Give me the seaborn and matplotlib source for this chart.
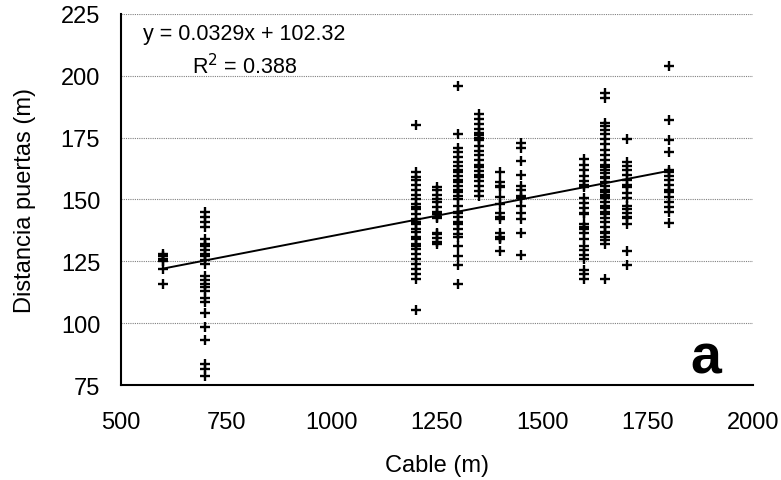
import matplotlib
matplotlib.use("Agg")
import matplotlib.pyplot as plt
import seaborn as sns
import pandas as pd
import numpy as np

# ---- data ----
y600 = [128, 127, 126, 125, 122, 116]
y700 = [145, 143, 141, 139, 134, 132, 131, 129.5, 128, 127, 125.5, 124, 119, 117.5,
        116, 114.5, 113, 110, 108.5, 104, 98.5, 93, 83.5, 81.5, 78.5]
y1200 = [180, 161, 159, 158, 156, 154, 152, 150, 148, 147, 146, 144, 142, 141, 140,
         138, 137, 135, 134, 132, 131, 130, 128, 126, 124, 122, 120, 118, 105.5]
y1250 = [155, 154, 152, 150, 149, 147, 145, 144, 143, 142.5, 136.5, 136, 134.5, 133, 132]
y1300 = [196, 176.5, 171, 169, 167, 165, 163.5, 162, 161, 159.5, 158, 157, 155.5, 154,
         153, 151.5, 150, 147.5, 145, 144.5, 143, 141, 140, 138, 136, 135, 131, 127,
         123.5, 116]
y1350 = [184.5, 182.5, 180.5, 178.5, 177, 176, 175, 174.5, 174, 171.5, 169.5, 168, 166,
         164, 163, 161.5, 160, 159, 157.5, 155.5, 153.5, 151.5]
y1400 = [161, 157, 155.5, 155, 151, 148, 144.5, 143, 142, 136.5, 135, 134.5, 134, 129]
y1450 = [173, 171, 165.5, 160, 155.5, 154, 151.5, 150.5, 147.5, 144.5, 142, 136.5, 127.5]
y1600 = [166.5, 164, 162, 159.5, 157.5, 156, 155, 150.5, 148.5, 146.5, 144.5, 144, 140,
         139, 138, 136.5, 134, 131, 129.5, 127.5, 126, 121.5, 120, 118]
y1650 = [193, 191, 181, 179.5, 178, 176.5, 174.5, 172.5, 170, 168, 166, 164, 163, 162,
         160.5, 159, 158.5, 157, 155.5, 154, 153, 152, 151, 150.5, 149, 147.5, 146.5,
         145, 144, 142.5, 141, 139, 137, 136.5, 135, 133.5, 132, 118]
y1700 = [174.5, 165, 163.5, 162, 160, 158, 156, 155, 152.5, 150.5, 147.5, 146, 144.5,
         143, 142.5, 140, 129, 123.5]
y1800 = [204, 182, 174, 169, 162, 161, 159.5, 158, 156, 154, 153, 151, 149, 147, 145, 140.5]

cable_groups = [600, 700, 1200, 1250, 1300, 1350, 1400, 1450, 1600, 1650, 1700, 1800]
dist_groups = [y600, y700, y1200, y1250, y1300, y1350, y1400, y1450, y1600, y1650, y1700, y1800]

slope = 0.0329
intercept = 102.32
r2 = 0.388
fit_x = [600, 1800]

x_ticks = [500, 750, 1000, 1250, 1500, 1750, 2000]
y_ticks = [75, 100, 125, 150, 175, 200, 225]

rows = [(c, v) for c, vals in zip(cable_groups, dist_groups) for v in vals]
df = pd.DataFrame(rows, columns=["Cable (m)", "Distancia puertas (m)"])

# ---- plot ----
sns.set_theme(style="white")
plt.rcParams["font.family"] = ["Liberation Sans", "DejaVu Sans"]
plt.rcParams.update({"text.color": "black", "axes.labelcolor": "black",
                     "xtick.color": "black", "ytick.color": "black"})

fig = plt.figure(figsize=(7.81, 4.81), dpi=100)
ax = fig.add_axes([0.155, 0.1975, 0.809, 0.7715])

for yv in y_ticks[1:]:
    ax.axhline(yv, color="#808080", lw=0.8, ls=(0, (1, 1)), zorder=0)

sns.scatterplot(data=df, x="Cable (m)", y="Distancia puertas (m)", marker="+",
                color="black", s=60, linewidth=1.7, ax=ax, zorder=3)

fx = np.array(fit_x, dtype=float)
sns.lineplot(x=fx, y=slope * fx + intercept, color="black", lw=1.4, ax=ax, zorder=4)

ax.set_xlim(500, 2000)
ax.set_ylim(75, 225)
ax.set_xticks(x_ticks)
ax.set_yticks(y_ticks)
ax.tick_params(axis="both", labelsize=17, direction="out", length=6, width=1.3,
               color="black")
ax.tick_params(axis="y", pad=9)
ax.tick_params(axis="x", pad=13)
for s in ["top", "right"]:
    ax.spines[s].set_visible(False)
for s in ["left", "bottom"]:
    ax.spines[s].set_color("black")
    ax.spines[s].set_linewidth(1.5)

ax.set_xlabel("Cable (m)", fontsize=17, labelpad=15)
ax.set_ylabel("Distancia puertas (m)", fontsize=17, labelpad=18)

ax.text(0.035, 0.975, f"y = {slope}x + {intercept}", transform=ax.transAxes,
        fontsize=15.5, va="top", ha="left")
ax.text(0.113, 0.895, f"R$^2$ = {r2}", transform=ax.transAxes,
        fontsize=15.5, va="top", ha="left")
ax.text(0.925, 0.035, "a", transform=ax.transAxes, fontsize=40, fontweight="bold",
        va="baseline", ha="center")

fig.savefig("out.png", dpi=100)
